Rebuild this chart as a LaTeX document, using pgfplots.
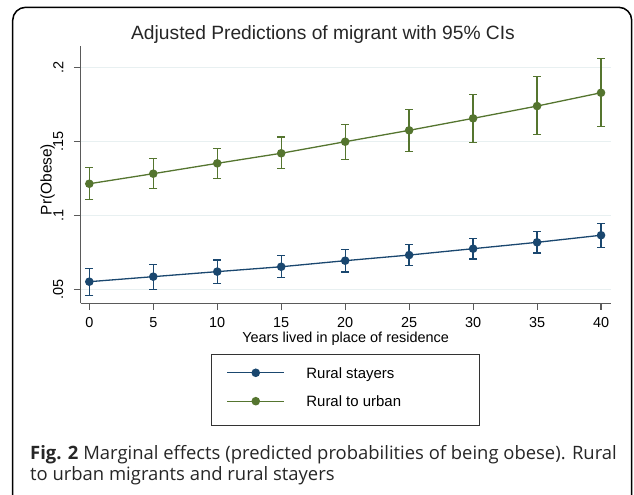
\documentclass[border=0pt]{standalone}
\usepackage{pgfplots}
\pgfplotsset{compat=1.18}
\usepackage{pgfplotstable}
\usetikzlibrary{calc}
\usepackage{fontspec}
\setmainfont{Liberation Sans}
\newfontfamily\capfont{Open Sans}
\definecolor{stnavy}{RGB}{26,71,111}
\definecolor{stgreen}{RGB}{85,117,47}
\definecolor{stgrid}{RGB}{232,240,241}
\definecolor{staxis}{RGB}{90,90,90}

\pgfplotstableread{
x y lo hi
0 0.0554 0.0462 0.0642
5 0.0588 0.0500 0.0672
10 0.0622 0.0541 0.0701
15 0.0655 0.0581 0.0732
20 0.0696 0.0620 0.0773
25 0.0734 0.0665 0.0804
30 0.0777 0.0707 0.0845
35 0.0820 0.0748 0.0892
40 0.0868 0.0787 0.0949
}\stayers

\pgfplotstableread{
x y lo hi
0 0.1216 0.1111 0.1324
5 0.1284 0.1182 0.1385
10 0.1354 0.1253 0.1453
15 0.1422 0.1318 0.1532
20 0.1500 0.1378 0.1617
25 0.1577 0.1435 0.1716
30 0.1658 0.1493 0.1820
35 0.1741 0.1547 0.1939
40 0.1831 0.1601 0.2061
}\urban

\begin{document}
\begin{tikzpicture}[x=1bp,y=1bp]
\begin{axis}[
  name=ax,
  scale only axis, width=529.8bp, height=257bp,
  xmin=-0.672, xmax=40.74, ymin=0.0408, ymax=0.2145,
  axis x line*=bottom, axis y line*=left,
  axis line style={staxis, line width=1.1bp, -},
  tick align=outside, major tick length=6.7bp,
  tick style={staxis, line width=1.1bp},
  xtick={0,5,10,15,20,25,30,35,40},
  xticklabels={0,5,10,15,20,25,30,35,40},
  ytick={0.05,0.1,0.15,0.2},
  yticklabels={.05,.1,.15,.2},
  ymajorgrids, grid style={stgrid, line width=1.1bp},
  xticklabel style={anchor=north, inner sep=0pt, font=\fontsize{14.5}{17}\selectfont, text=black},
  yticklabel style={rotate=90, anchor=south, inner sep=0pt, font=\fontsize{14.5}{17}\selectfont, text=black},
  xticklabel shift=7.6bp,
  yticklabel shift=10.5bp,
  xlabel={Years lived in place of residence},
  xlabel style={at={(axis description cs:0.5,-0.1518)}, anchor=base, inner sep=0pt, font=\fontsize{14.5}{17}\selectfont},
  ylabel={Pr(Obese)},
  ylabel style={at={(axis description cs:-0.0547,0.4817)}, anchor=base, inner sep=0pt, font=\fontsize{15.5}{19}\selectfont},
  legend style={at={(axis description cs:0.5,-0.1984)}, anchor=north, draw=black!80, line width=1bp,
    inner xsep=15bp, inner ysep=6bp, row sep=4.4bp, column sep=21.7bp,
    nodes={inner sep=0pt, text depth=}, cells={anchor=center}, font=\fontsize{15}{18}\selectfont},
  legend image code/.code={\draw[mark repeat=2,mark phase=2,#1] plot coordinates {(0bp,0bp) (28.3bp,0bp) (56.6bp,0bp)};},
]
\addplot[stnavy, line width=1.3bp, mark=*, mark size=3.6bp,
  error bars/.cd, y dir=both, y explicit,
  error bar style={line width=1.3bp, stnavy},
  error mark options={rotate=90, mark size=4bp, line width=1.3bp, stnavy}]
  table[x=x, y=y, y error plus expr=\thisrow{hi}-\thisrow{y}, y error minus expr=\thisrow{y}-\thisrow{lo}] {\stayers};
\addlegendentry{\makebox[158bp][l]{\rule[-6.6bp]{0pt}{24bp}Rural stayers}}
\addplot[stgreen, line width=1.3bp, mark=*, mark size=3.6bp,
  error bars/.cd, y dir=both, y explicit,
  error bar style={line width=1.3bp, stgreen},
  error mark options={rotate=90, mark size=4bp, line width=1.3bp, stgreen}]
  table[x=x, y=y, y error plus expr=\thisrow{hi}-\thisrow{y}, y error minus expr=\thisrow{y}-\thisrow{lo}] {\urban};
\addlegendentry{\makebox[158bp][l]{\rule[-6.6bp]{0pt}{24bp}Rural to urban}}
\addlegendimage{empty legend}
\addlegendentry{\rule{0pt}{1.6bp}}
\coordinate (O) at (rel axis cs:0,0);
\end{axis}
\begin{scope}[shift={($(O)+(-80.7bp,-191.7bp)$)}]
\path (0,0) rectangle (634,495);
\draw[overlay, line width=1.5bp, rounded corners=13bp] (12.7,-30) -- (12.7,487.7) -- (631.7,487.7) -- (631.7,-30);
\node[anchor=base, inner sep=0pt, font=\fontsize{19.3}{22}\selectfont, text=black!85] at (323,455.7) {Adjusted Predictions of migrant with 95\% CIs};
\node[anchor=base west, inner sep=0pt, font=\capfont\fontsize{18.5}{21}\selectfont, text=black!85] at (30,35.7) {\textbf{Fig. 2} Marginal effects (predicted probabilities of being obese). Rural};
\node[anchor=base west, inner sep=0pt, font=\capfont\fontsize{18.5}{21}\selectfont, text=black!85] at (30,14) {to urban migrants and rural stayers};
\end{scope}
\end{tikzpicture}
\end{document}
